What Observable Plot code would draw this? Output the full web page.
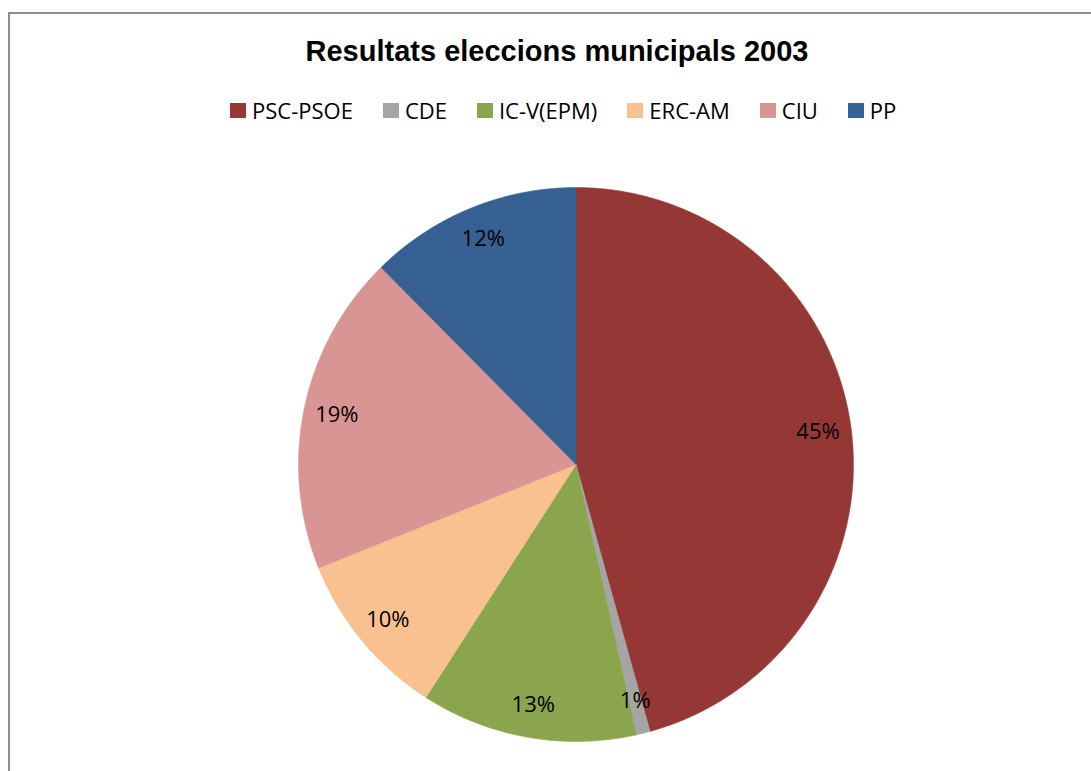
<!DOCTYPE html>
<html><head><meta charset="utf-8">
<script src="https://cdn.jsdelivr.net/npm/d3@7"></script>
<script src="https://cdn.jsdelivr.net/npm/@observablehq/plot@0.6"></script>
<style>
html,body{margin:0;padding:0;background:#fff;overflow:hidden;width:1091px;height:771px;}
#frame{position:absolute;left:8px;top:12px;width:1200px;height:900px;border:2px solid #8e8e8e;box-sizing:border-box;}
#title{position:absolute;left:0;width:1114px;top:33px;text-align:center;font:bold 29px "Liberation Sans",Arial,sans-serif;color:#000;line-height:36px;}
#legend{position:absolute;left:230px;top:97px;display:flex;gap:30px;font:22px "Open Sans",sans-serif;line-height:26px;white-space:nowrap;color:#000;}
#legend .item{display:flex;align-items:flex-start;}
#legend .sw{width:16px;height:15px;margin-top:6px;margin-right:6px;}
#chart{position:absolute;left:0;top:140px;}
</style>
</head><body>
<div id="frame"></div>
<div id="title">Resultats eleccions municipals 2003</div>
<div id="legend"></div>
<div id="chart"></div>
<script>
const parties = ["PSC-PSOE", "CDE", "IC-V(EPM)", "ERC-AM", "CIU", "PP"];
const shares = [45.7, 0.8, 12.6, 9.8, 18.7, 12.4];
const labels = ["45%", "1%", "13%", "10%", "19%", "12%"];
const colors = ["#953735", "#a5a5a5", "#8ba54f", "#f9c090", "#d99594", "#366092"];

// legend
const leg = document.getElementById("legend");
parties.forEach((p, i) => {
  const it = document.createElement("div"); it.className = "item";
  const sw = document.createElement("div"); sw.className = "sw"; sw.style.background = colors[i];
  const t = document.createElement("span"); t.textContent = p;
  it.appendChild(sw); it.appendChild(t); leg.appendChild(it);
});

// pie geometry from d3.pie (clockwise from 12 o'clock)
const arcs = d3.pie().sort(null)(shares);
const polys = [];
arcs.forEach((a, i) => {
  polys.push({party: parties[i], x: 0, y: 0});
  const n = Math.max(2, Math.ceil((a.endAngle - a.startAngle) / 0.005));
  for (let k = 0; k <= n; k++) {
    const t = a.startAngle + (a.endAngle - a.startAngle) * k / n;
    polys.push({party: parties[i], x: Math.sin(t), y: Math.cos(t)});
  }
  polys.push({party: parties[i], x: 0, y: 0});
});
const lblR = 0.88;
const lbls = arcs.map((a, i) => {
  const m = (a.startAngle + a.endAngle) / 2;
  return {party: parties[i], label: labels[i], x: lblR * Math.sin(m), y: lblR * Math.cos(m)};
});

const chart = Plot.plot({
  width: 1091, height: 631,
  marginLeft: 298, marginRight: 238, marginTop: 47, marginBottom: 30,
  x: {domain: [-1, 1], axis: null},
  y: {domain: [-1, 1], axis: null},
  color: {domain: parties, range: colors},
  style: {background: "transparent", fontFamily: "Open Sans"},
  marks: [
    Plot.line(polys, {x: "x", y: "y", z: "party", fill: "party", stroke: "party", strokeWidth: 0.5, curve: "linear"}),
    Plot.text(lbls, {x: "x", y: "y", text: "label", fontSize: 22, fill: "#000", fontFamily: "Open Sans"})
  ]
});
document.getElementById("chart").appendChild(chart);
</script>
</body></html>
